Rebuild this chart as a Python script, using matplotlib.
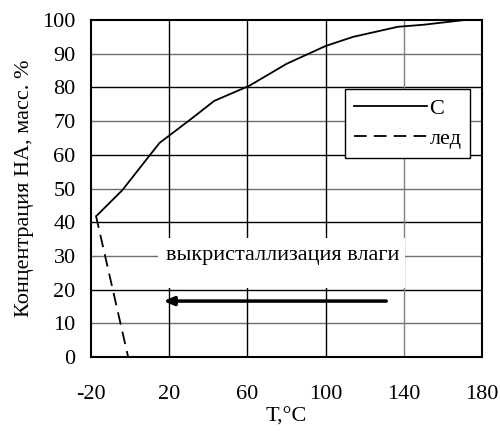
import numpy as np
import matplotlib.pyplot as plt
from matplotlib.patches import Rectangle

plt.rcParams['font.family'] = ['Liberation Serif', 'DejaVu Serif']
plt.rcParams['axes.unicode_minus'] = False

# curve C: concentration vs temperature
t_c = [-17, -4, 15, 32, 43, 61, 80, 100, 114, 137, 150, 171]
c_c = [42, 49.5, 63.5, 71, 76, 80.5, 87, 92.3, 95, 98, 98.6, 100]

# ice line
t_ice = [-17.5, -1]
c_ice = [42, 0]

xticks = [-20, 20, 60, 100, 140, 180]
yticks = list(range(0, 101, 10))

fs = 16

fig = plt.figure(figsize=(5, 4.32), dpi=100)
ax = fig.add_axes([0.182, 0.1736, 0.782, 0.78])

ax.set_xlim(-20, 180)
ax.set_ylim(0, 100)
ax.set_xticks(xticks)
ax.set_yticks(yticks)
ax.tick_params(length=0, labelsize=fs)
ax.tick_params(axis='x', pad=20)
ax.tick_params(axis='y', pad=11)

# grid, some lines lighter as in the original
for y in yticks[1:-1]:
    col = '#000000' if y % 20 == 0 else '#707070'
    ax.axhline(y, color=col, lw=1, zorder=1)
for x in xticks[1:-1]:
    col = '#000000' if x != 140 else '#808080'
    ax.axvline(x, color=col, lw=1, zorder=1)

for s in ax.spines.values():
    s.set_linewidth(1.5)

# white box behind the label
ax.add_patch(Rectangle((14.5, 20.6), 126, 14.7, facecolor='white',
                       edgecolor='none', zorder=2))
ax.text(78, 30, 'выкристаллизация влаги', ha='center', va='center',
        fontsize=fs, zorder=3)

ax.annotate('', xy=(17, 16.6), xytext=(131, 16.6),
            arrowprops=dict(arrowstyle='-|>,head_length=0.6,head_width=0.25',
                            lw=2.5, color='black', shrinkA=0, shrinkB=0),
            zorder=4)

ax.plot(t_c, c_c, color='black', lw=1.3, label='С', zorder=5)
ax.plot(t_ice, c_ice, color='black', lw=1.3, ls=(0, (7, 4)), label='лед', zorder=5)

leg = ax.legend(loc='upper right', bbox_to_anchor=(0.97, 0.795), fontsize=fs,
                handlelength=3.3, handletextpad=0.1, labelspacing=0.45,
                fancybox=False, framealpha=1, edgecolor='black',
                borderpad=0.4, borderaxespad=0)
leg.get_frame().set_linewidth(1)

ax.set_xlabel('T,°C', fontsize=fs, labelpad=3)
ax.set_ylabel('Концентрация НА, масс. %', fontsize=fs, labelpad=6)

fig.savefig('out.png', dpi=100)
